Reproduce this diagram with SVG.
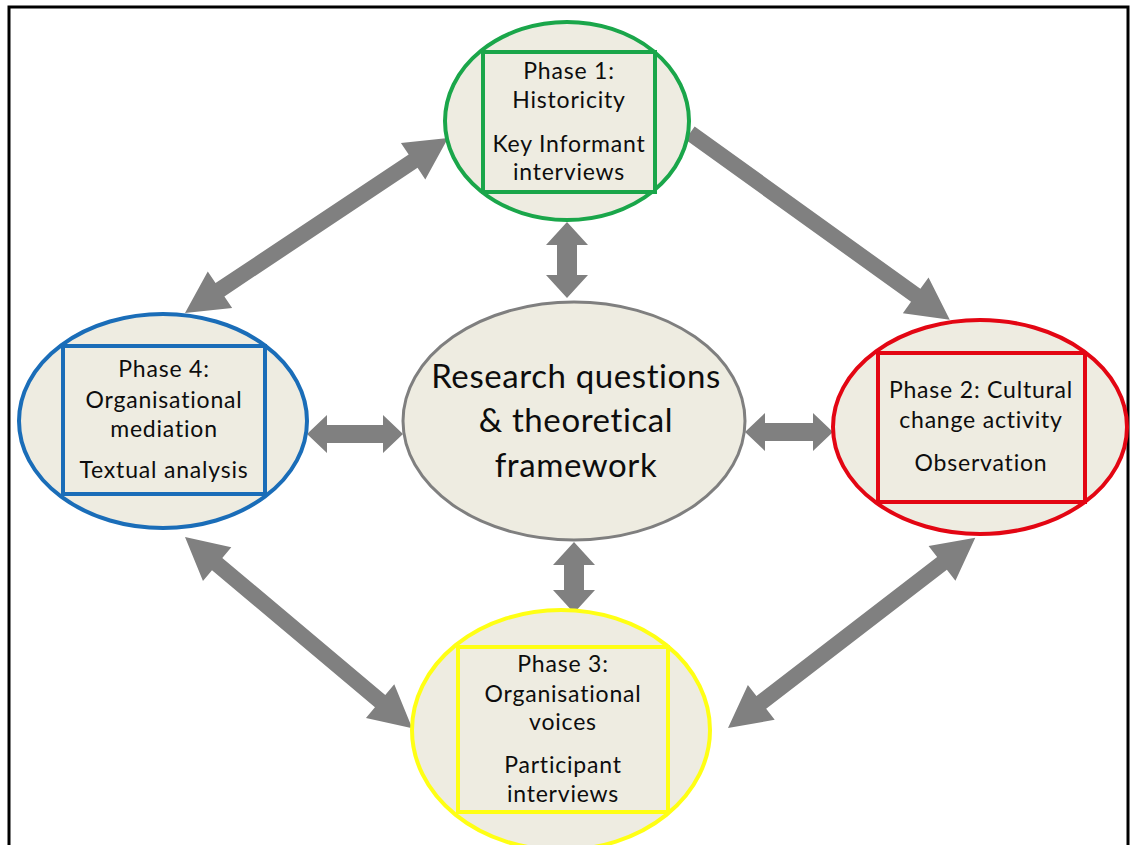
<svg xmlns="http://www.w3.org/2000/svg" width="1130" height="845" viewBox="0 0 1130 845">
  <style>
    .frame { fill: #ffffff; stroke: #000000; stroke-width: 3; }
    .arrow { fill: #808080; }
    .node-shape { fill: #eeece1; stroke-width: 4; }
    .inner { fill: #eeece1; stroke-width: 4; }
    .label { font-family: Lato, "Open Sans", sans-serif; font-size: 23px; letter-spacing: 0.8px; fill: #0d0d0d; text-anchor: middle; }
    .label-big { font-family: Lato, "Open Sans", sans-serif; font-size: 33px; letter-spacing: 0.6px; fill: #0d0d0d; text-anchor: middle; }
    .green { stroke: #1aa64a; }
    .red { stroke: #e30613; }
    .blue { stroke: #1a6db8; }
    .yellow { stroke: #ffff14; }
    .grey { stroke: #7f7f7f; stroke-width: 3; }
  </style>

  <!-- outer frame -->
  <rect class="frame" x="9" y="7" width="1119" height="850"/>

  <!-- block arrows between phases and the central framework -->
  <g id="connectors">
    <polygon class="arrow" transform="translate(185,313) rotate(-33.64)" points="0,0 42,-22 42,-8 274,-8 274,-22 316,0 274,22 274,8 42,8 42,22"/>
    <polygon class="arrow" transform="translate(690,133) rotate(35.72)" points="0,-8 278,-8 278,-22 320,0 278,22 278,8 0,8"/>
    <polygon class="arrow" transform="translate(185,537) rotate(40.08)" points="0,0 42,-22 42,-8 255,-8 255,-22 297,0 255,22 255,8 42,8 42,22"/>
    <polygon class="arrow" transform="translate(728,728) rotate(-37.57)" points="0,0 42,-22 42,-8 270,-8 270,-22 312,0 270,22 270,8 42,8 42,22"/>
    <polygon class="arrow" transform="translate(567,222) rotate(90)" points="0,0 23,-21 23,-10 53,-10 53,-21 76,0 53,21 53,10 23,10 23,21"/>
    <polygon class="arrow" transform="translate(574,542) rotate(90)" points="0,0 23,-21 23,-10 48,-10 48,-21 71,0 48,21 48,10 23,10 23,21"/>
    <polygon class="arrow" transform="translate(307,434)" points="0,0 20,-19 20,-9 76,-9 76,-19 96,0 76,19 76,9 20,9 20,19"/>
    <polygon class="arrow" transform="translate(745,432)" points="0,0 20,-19 20,-9 68,-9 68,-19 88,0 68,19 68,9 20,9 20,19"/>
  </g>

  <!-- Phase 1 -->
  <g id="phase1">
    <ellipse class="node-shape green" cx="567" cy="121" rx="122" ry="99"/>
    <rect class="inner green" x="483" y="52" width="172" height="140"/>
    <text class="label" x="569" y="79">Phase 1:</text>
    <text class="label" x="569" y="108">Historicity</text>
    <text class="label" x="569" y="152">Key Informant</text>
    <text class="label" x="569" y="180">interviews</text>
  </g>

  <!-- Phase 2 -->
  <g id="phase2">
    <ellipse class="node-shape red" cx="980" cy="427" rx="147" ry="107"/>
    <rect class="inner red" x="878" y="353" width="207" height="149"/>
    <text class="label" x="981" y="398">Phase 2: Cultural</text>
    <text class="label" x="981" y="428">change activity</text>
    <text class="label" x="981" y="471">Observation</text>
  </g>

  <!-- Phase 4 -->
  <g id="phase4">
    <ellipse class="node-shape blue" cx="163" cy="421" rx="144" ry="107"/>
    <rect class="inner blue" x="63" y="346" width="202" height="148"/>
    <text class="label" x="164" y="377">Phase 4:</text>
    <text class="label" x="164" y="408">Organisational</text>
    <text class="label" x="164" y="437">mediation</text>
    <text class="label" x="164" y="478">Textual analysis</text>
  </g>

  <!-- Phase 3 -->
  <g id="phase3">
    <ellipse class="node-shape yellow" cx="561" cy="730" rx="149" ry="120"/>
    <rect class="inner yellow" x="458" y="647" width="210" height="165"/>
    <text class="label" x="563" y="672">Phase 3:</text>
    <text class="label" x="563" y="702">Organisational</text>
    <text class="label" x="563" y="730">voices</text>
    <text class="label" x="563" y="773">Participant</text>
    <text class="label" x="563" y="802">interviews</text>
  </g>

  <!-- central framework -->
  <g id="framework">
    <ellipse class="node-shape grey" cx="574" cy="421" rx="171" ry="119"/>
    <text class="label-big" x="576" y="388">Research questions</text>
    <text class="label-big" x="576" y="432">&amp; theoretical</text>
    <text class="label-big" x="576" y="477">framework</text>
  </g>
</svg>
